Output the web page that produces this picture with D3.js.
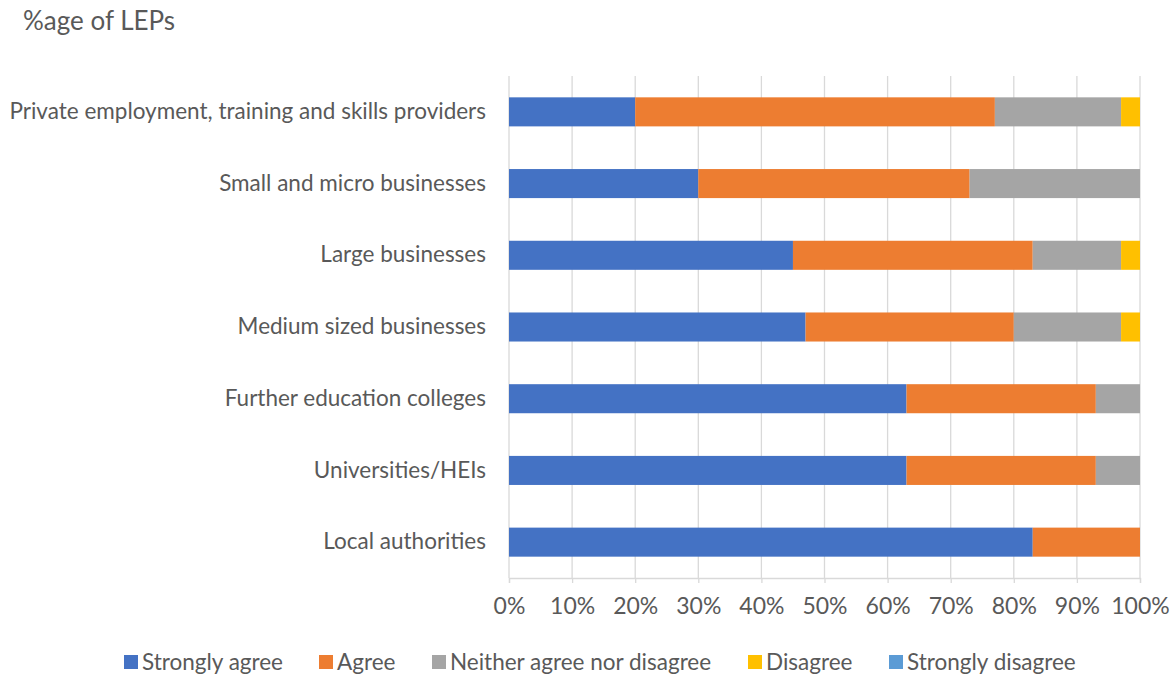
<!DOCTYPE html>
<html>
<head>
<meta charset="utf-8">
<script src="https://cdn.jsdelivr.net/npm/d3@7"></script>
<style>
  body { margin: 0; background: #fff; }
  svg { display: block; font-family: Lato, "Open Sans", sans-serif; }
</style>
</head>
<body>
<svg id="chart" width="1170" height="677"></svg>
<script>
// Stakeholder groups, top to bottom
const categories = [
  "Private employment, training and skills providers",
  "Small and micro businesses",
  "Large businesses",
  "Medium sized businesses",
  "Further education colleges",
  "Universities/HEIs",
  "Local authorities"
];
const seriesNames = ["Strongly agree", "Agree", "Neither agree nor disagree", "Disagree", "Strongly disagree"];
const seriesColors = ["#4472c4", "#ed7d31", "#a5a5a5", "#ffc000", "#5b9bd5"];

// Share of LEPs (%) per response, aligned with categories
const stronglyAgree    = [20, 30, 45, 47, 63, 63, 83];
const agree            = [57, 43, 38, 33, 30, 30, 17];
const neither          = [20, 27, 14, 17,  7,  7,  0];
const disagree         = [ 3,  0,  3,  3,  0,  0,  0];
const stronglyDisagree = [ 0,  0,  0,  0,  0,  0,  0];

const tickValues = [0, 10, 20, 30, 40, 50, 60, 70, 80, 90, 100];

const rows = categories.map((c, i) => ({
  category: c,
  "Strongly agree": stronglyAgree[i],
  "Agree": agree[i],
  "Neither agree nor disagree": neither[i],
  "Disagree": disagree[i],
  "Strongly disagree": stronglyDisagree[i]
}));

const svg = d3.select("#chart");
const plot = { left: 509, right: 1140, top: 76, bottom: 578 };

const x = d3.scaleLinear().domain([0, 100]).range([plot.left, plot.right]);
const y = d3.scaleBand().domain(categories).range([plot.top, plot.bottom]).paddingInner(0.595).paddingOuter(0.2975);
const color = d3.scaleOrdinal().domain(seriesNames).range(seriesColors);

// Title
svg.append("text")
  .attr("x", 23).attr("y", 30)
  .attr("font-size", 26).attr("fill", "#595959")
  .text("%age of LEPs");

// Vertical gridlines
svg.append("g")
  .selectAll("line")
  .data(tickValues)
  .join("line")
  .attr("x1", d => x(d)).attr("x2", d => x(d))
  .attr("y1", plot.top).attr("y2", plot.bottom)
  .attr("stroke", "#d9d9d9").attr("stroke-width", 1.3);

// Stacked bars
const stacked = d3.stack().keys(seriesNames)(rows);
svg.append("g")
  .selectAll("g")
  .data(stacked)
  .join("g")
  .attr("fill", d => color(d.key))
  .selectAll("rect")
  .data(d => d)
  .join("rect")
  .attr("x", d => x(d[0]))
  .attr("width", d => x(d[1]) - x(d[0]))
  .attr("y", d => y(d.data.category))
  .attr("height", y.bandwidth());

// Bottom axis
const xAxis = d3.axisBottom(x)
  .tickValues(tickValues)
  .tickFormat(d => d + "%")
  .tickSize(5)
  .tickPadding(15);
const gx = svg.append("g")
  .attr("transform", `translate(0,${plot.bottom})`)
  .call(xAxis);
gx.select(".domain").attr("stroke", "#d9d9d9").attr("stroke-width", 1.3);
gx.selectAll(".tick line").attr("stroke", "#d9d9d9").attr("stroke-width", 1.3);
gx.selectAll(".tick text")
  .attr("font-size", 23).attr("fill", "#595959")
  .attr("font-family", "Lato, 'Open Sans', sans-serif");

// Category labels
const yAxis = d3.axisLeft(y).tickSize(0).tickPadding(23);
const gy = svg.append("g")
  .attr("transform", `translate(${plot.left},0)`)
  .call(yAxis);
gy.select(".domain").remove();
gy.selectAll(".tick text")
  .attr("font-size", 22.5).attr("fill", "#595959")
  .attr("font-family", "Lato, 'Open Sans', sans-serif");

// Legend
const legendX = [124, 319, 432, 748, 889];
const legend = svg.append("g");
seriesNames.forEach((name, i) => {
  const g = legend.append("g").attr("transform", `translate(${legendX[i]},662)`);
  g.append("rect").attr("x", 0).attr("y", -7).attr("width", 14).attr("height", 14).attr("fill", color(name));
  g.append("text").attr("x", 18).attr("y", 0).attr("dy", "0.35em")
    .attr("font-size", 22.5).attr("fill", "#595959").text(name);
});
</script>
</body>
</html>
